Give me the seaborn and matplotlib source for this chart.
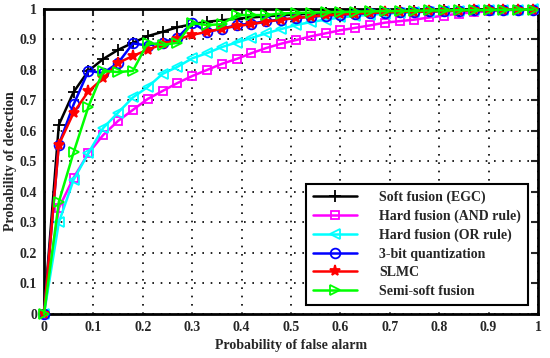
import matplotlib
matplotlib.use("Agg")
import matplotlib.pyplot as plt
import seaborn as sns

pf = [0.00, 0.03, 0.06, 0.09, 0.12, 0.15, 0.18, 0.21, 0.24, 0.27, 0.30, 0.33,
      0.36, 0.39, 0.42, 0.45, 0.48, 0.51, 0.54, 0.57, 0.60, 0.63, 0.66, 0.69,
      0.72, 0.75, 0.78, 0.81, 0.84, 0.87, 0.90, 0.93, 0.96, 0.99]

soft_egc = [0, 0.62, 0.728, 0.797, 0.836, 0.866, 0.889, 0.911, 0.925, 0.94, 0.95, 0.958,
            0.963, 0.968, 0.972, 0.976, 0.979, 0.982, 0.984, 0.986, 0.988, 0.989, 0.990, 0.991,
            0.992, 0.993, 0.994, 0.995, 0.996, 0.996, 0.997, 0.997, 0.998, 0.998]
hard_and = [0, 0.347, 0.447, 0.527, 0.587, 0.633, 0.669, 0.705, 0.731, 0.757, 0.78, 0.80,
            0.82, 0.836, 0.855, 0.872, 0.886, 0.898, 0.91, 0.92, 0.93, 0.938, 0.946, 0.955,
            0.96, 0.965, 0.972, 0.978, 0.985, 0.989, 0.992, 0.995, 0.997, 0.998]
hard_or = [0, 0.30, 0.44, 0.528, 0.61, 0.66, 0.71, 0.744, 0.787, 0.81, 0.838, 0.855,
           0.875, 0.89, 0.905, 0.92, 0.934, 0.947, 0.957, 0.965, 0.972, 0.977, 0.981, 0.984,
           0.987, 0.989, 0.991, 0.993, 0.994, 0.995, 0.996, 0.997, 0.998, 0.999]
bit3 = [0, 0.555, 0.687, 0.797, 0.79, 0.823, 0.887, 0.88, 0.89, 0.905, 0.955, 0.925,
        0.935, 0.947, 0.952, 0.96, 0.965, 0.97, 0.975, 0.978, 0.981, 0.984, 0.986, 0.988,
        0.99, 0.991, 0.992, 0.993, 0.994, 0.995, 0.996, 0.997, 0.998, 0.998]
slmc = [0, 0.555, 0.66, 0.73, 0.773, 0.823, 0.846, 0.866, 0.885, 0.90, 0.915, 0.925,
        0.935, 0.944, 0.95, 0.958, 0.965, 0.97, 0.975, 0.979, 0.982, 0.985, 0.987, 0.989,
        0.99, 0.991, 0.992, 0.993, 0.994, 0.995, 0.996, 0.997, 0.998, 0.998]
semi_soft = [0, 0.367, 0.53, 0.68, 0.797, 0.793, 0.797, 0.889, 0.882, 0.889, 0.954, 0.947,
             0.95, 0.98, 0.98, 0.98, 0.985, 0.987, 0.988, 0.989, 0.99, 0.991, 0.992, 0.993,
             0.993, 0.994, 0.995, 0.995, 0.996, 0.996, 0.997, 0.997, 0.998, 0.998]

labels = ["Soft fusion (EGC)", "Hard fusion (AND rule)", "Hard fusion (OR rule)",
          "3-bit quantization", "SLMC", "Semi-soft fusion"]
tick_vals = [0, 0.1, 0.2, 0.3, 0.4, 0.5, 0.6, 0.7, 0.8, 0.9, 1]
tick_text = ["0", "0.1", "0.2", "0.3", "0.4", "0.5", "0.6", "0.7", "0.8", "0.9", "1"]

sns.set_style("white")
plt.rcParams["font.family"] = ["Liberation Serif", "DejaVu Serif"]
plt.rcParams["font.weight"] = "bold"

fig = plt.figure(figsize=(5.5, 3.58), dpi=100)
ax = fig.add_axes([0.08, 0.123, 0.898, 0.852])

series = [soft_egc, hard_and, hard_or, bit3, slmc, semi_soft]
colors = ["#000000", "#ff00ff", "#00ffff", "#0000ff", "#ff0000", "#00ff00"]
markers = ["+", "s", "<", "o", "*", ">"]
sizes = [8, 6, 7, 7, 8, 7]

for y, c, m, lab, ms in zip(series, colors, markers, labels, sizes):
    face = c if m in ("+", "*") else "none"
    sns.lineplot(x=pf, y=y, ax=ax, color=c, marker=m, markersize=ms,
                 markerfacecolor=face, markeredgecolor=c, markeredgewidth=1.3,
                 linewidth=1.8, label=lab, clip_on=False, zorder=3)

ax.set_xlim(0, 1)
ax.set_ylim(0, 1)
ax.set_xticks(tick_vals)
ax.set_yticks(tick_vals)
ax.set_xticklabels(tick_text, fontsize=10, fontweight="bold")
ax.set_yticklabels(tick_text, fontsize=10, fontweight="bold")
ax.tick_params(direction="in", length=5, width=1.5, top=True, right=True, pad=5)
ax.grid(True, color="black", linestyle=(0, (1, 4)), linewidth=1.2)
for s in ax.spines.values():
    s.set_visible(True)
    s.set_linewidth(2)
    s.set_color("black")
ax.set_xlabel("Probability of false alarm", fontsize=10, fontweight="bold", labelpad=4)
ax.set_ylabel("Probability of detection", fontsize=10, fontweight="bold", labelpad=2)

leg = ax.legend(loc="lower right", bbox_to_anchor=(0.98, 0.03), borderaxespad=0,
                fontsize=10, frameon=True, fancybox=False, edgecolor="black",
                framealpha=1, borderpad=0.5, labelspacing=0.4, handlelength=3.2,
                handletextpad=1.6)
leg.get_frame().set_linewidth(1.5)
for t in leg.get_texts():
    t.set_fontweight("bold")

fig.savefig("out.png", dpi=100)
